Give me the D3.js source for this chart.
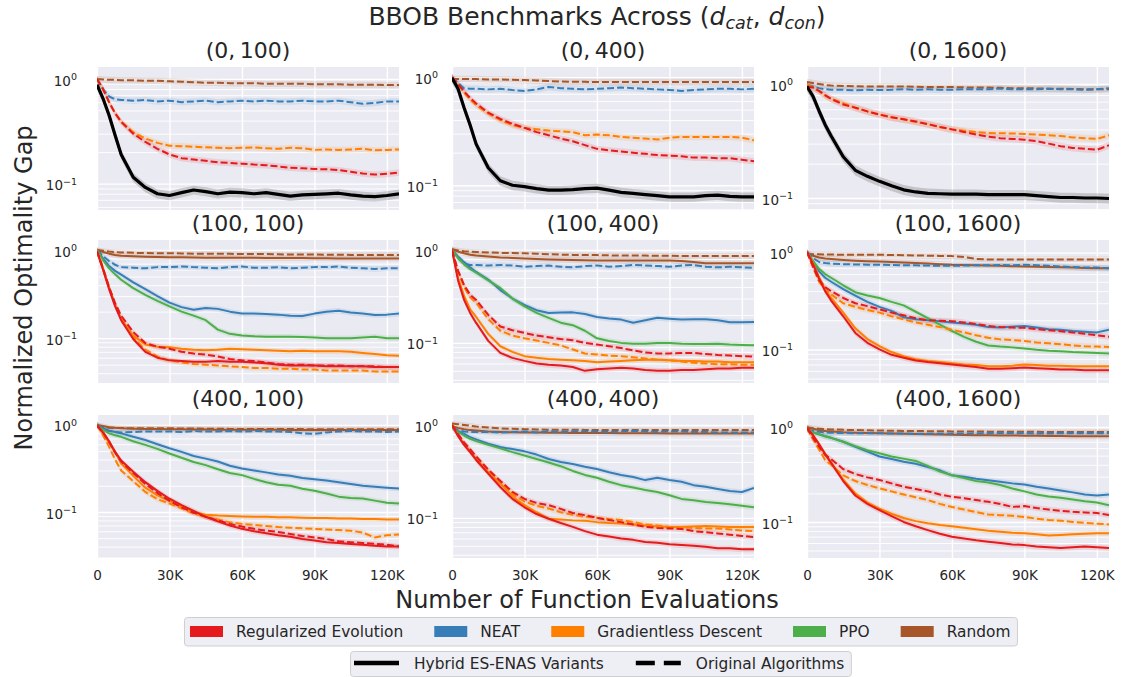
<!DOCTYPE html>
<html>
<head>
<meta charset="utf-8">
<script src="https://cdn.jsdelivr.net/npm/d3@7"></script>
<style>
  body { margin: 0; background: #fff; }
  text { font-family: "DejaVu Sans", sans-serif; fill: #262626; }
</style>
</head>
<body>
<script>
// ----- data -----

// function evaluations (x) shared by every curve
const evals = [0, 2500, 5000, 7500, 10000, 15000, 20000, 25000, 30000, 35000, 40000, 45000, 50000, 55000,
  60000, 65000, 70000, 75000, 80000, 85000, 90000, 95000, 100000, 105000, 110000, 115000, 120000, 125000];

const panelTitles = ["(0,\u2009100)", "(0,\u2009400)", "(0,\u20091600)",
                     "(100,\u2009100)", "(100,\u2009400)", "(100,\u20091600)",
                     "(400,\u2009100)", "(400,\u2009400)", "(400,\u20091600)"];

// y limits of each panel (log axis)
const yLimits = [[0.056, 1.30], [0.059, 1.24], [0.0785, 1.41],
                 [0.031, 1.30], [0.037, 1.28], [0.045, 1.35],
                 [0.0296, 1.30], [0.037, 1.28], [0.0417, 1.34]];

const xTicks = [0, 30000, 60000, 90000, 120000];
const xTickLabels = ["0", "30K", "60K", "90K", "120K"];

// suffix _o = original algorithm (dashed), _h = hybrid ES-ENAS variant (solid)
const gap_0_100 = {
  rnd_o: [1.0,0.99,0.98,0.98,0.97,0.97,0.96, 0.96,0.95,0.94,0.93,0.92,0.92,0.91, 0.91,0.91,0.90,0.90,0.90,0.90,0.89, 0.89,0.89,0.88,0.88,0.88,0.875,0.875],
  neat_o: [1.0,0.8,0.68,0.64,0.63,0.62,0.63, 0.61,0.62,0.60,0.61,0.62,0.60,0.61, 0.62,0.61,0.62,0.61,0.61,0.62,0.61, 0.61,0.62,0.60,0.58,0.59,0.61,0.61],
  gd_o: [1.0,0.8,0.6,0.47,0.39,0.31,0.27, 0.245,0.23,0.228,0.225,0.222,0.22,0.218, 0.22,0.222,0.218,0.215,0.22,0.218,0.21, 0.212,0.21,0.212,0.215,0.208,0.21,0.212],
  re_o: [1.0,0.8,0.6,0.47,0.39,0.30,0.25, 0.215,0.19,0.175,0.17,0.165,0.16,0.158, 0.155,0.152,0.15,0.146,0.142,0.14,0.138, 0.137,0.135,0.13,0.125,0.122,0.124,0.128],
  es_h: [0.88,0.65,0.45,0.29,0.19,0.115,0.092, 0.08,0.077,0.082,0.087,0.084,0.08,0.083, 0.082,0.08,0.082,0.079,0.076,0.078,0.079, 0.08,0.081,0.078,0.076,0.075,0.077,0.08]
};
const gap_0_400 = {
  rnd_o: [0.96,0.96,0.96,0.96,0.96,0.95,0.95, 0.945,0.94,0.93,0.92,0.91,0.905,0.905, 0.90,0.90,0.90,0.90,0.90,0.90,0.90, 0.90,0.90,0.90,0.90,0.90,0.90,0.90],
  neat_o: [1.0,0.88,0.79,0.78,0.78,0.77,0.78, 0.76,0.745,0.77,0.81,0.79,0.78,0.77, 0.78,0.79,0.80,0.79,0.78,0.77,0.76, 0.745,0.76,0.77,0.78,0.78,0.77,0.78],
  gd_o: [1.0,0.85,0.72,0.62,0.55,0.46,0.40, 0.36,0.338,0.33,0.32,0.315,0.31,0.29, 0.294,0.29,0.28,0.275,0.27,0.265,0.275, 0.28,0.28,0.28,0.28,0.28,0.275,0.26],
  re_o: [1.0,0.86,0.74,0.64,0.57,0.47,0.41, 0.37,0.34,0.31,0.29,0.27,0.255,0.235, 0.217,0.21,0.205,0.20,0.195,0.19,0.188, 0.185,0.18,0.18,0.178,0.178,0.172,0.167],
  es_h: [0.98,0.78,0.52,0.36,0.24,0.145,0.11, 0.10,0.097,0.093,0.09,0.09,0.091,0.093, 0.094,0.09,0.086,0.084,0.082,0.08,0.078, 0.078,0.078,0.08,0.081,0.079,0.078,0.078]
};
const gap_0_1600 = {
  rnd_o: [1.04,1.02,1.0,0.98,0.97,0.96,0.955, 0.95,0.95,0.95,0.95,0.945,0.94,0.94, 0.94,0.935,0.93,0.93,0.925,0.92,0.92, 0.915,0.91,0.91,0.905,0.90,0.90,0.90],
  neat_o: [0.99,0.95,0.92,0.90,0.89,0.89,0.88, 0.89,0.885,0.89,0.9,0.89,0.9,0.89, 0.89,0.9,0.9,0.9,0.91,0.9,0.9, 0.9,0.91,0.9,0.9,0.89,0.9,0.92],
  gd_o: [0.99,0.93,0.86,0.79,0.74,0.68,0.62, 0.575,0.54,0.51,0.49,0.465,0.445,0.42, 0.40,0.39,0.38,0.372,0.37,0.368,0.365, 0.36,0.355,0.35,0.34,0.335,0.33,0.355],
  re_o: [0.95,0.93,0.87,0.80,0.74,0.66,0.62, 0.575,0.54,0.51,0.49,0.47,0.445,0.42, 0.40,0.38,0.36,0.345,0.335,0.33,0.325, 0.315,0.30,0.285,0.275,0.27,0.265,0.29],
  es_h: [0.95,0.78,0.58,0.44,0.35,0.23,0.175, 0.155,0.14,0.128,0.118,0.113,0.11,0.109, 0.108,0.108,0.108,0.107,0.107,0.107,0.107, 0.105,0.103,0.101,0.101,0.1,0.1,0.099]
};
const gap_100_100 = {
  rnd_o: [1.0,0.98,0.96,0.95,0.94,0.93,0.925, 0.92,0.92,0.915,0.91,0.91,0.905,0.905, 0.90,0.90,0.90,0.895,0.89,0.89,0.89, 0.885,0.885,0.88,0.88,0.88,0.88,0.88],
  rnd_h: [1.0,0.95,0.91,0.88,0.86,0.85,0.84, 0.835,0.83,0.83,0.825,0.82,0.82,0.82, 0.815,0.815,0.81,0.81,0.81,0.81,0.805, 0.805,0.80,0.80,0.80,0.80,0.80,0.80],
  neat_o: [1.0,0.85,0.75,0.68,0.64,0.63,0.62, 0.64,0.64,0.65,0.64,0.63,0.62,0.64, 0.65,0.63,0.63,0.64,0.62,0.63,0.64, 0.64,0.65,0.63,0.62,0.61,0.62,0.62],
  neat_h: [1.0,0.80,0.66,0.58,0.525,0.43,0.36, 0.30,0.253,0.225,0.21,0.22,0.215,0.20, 0.19,0.19,0.188,0.185,0.18,0.178,0.19, 0.2,0.205,0.195,0.19,0.183,0.185,0.19],
  ppo_h: [1.0,0.77,0.62,0.53,0.46,0.37,0.31, 0.265,0.23,0.20,0.18,0.16,0.125,0.112, 0.107,0.105,0.104,0.104,0.104,0.103,0.102, 0.10,0.10,0.10,0.102,0.104,0.10,0.10],
  gd_o: [0.96,0.61,0.37,0.24,0.165,0.102,0.074, 0.062,0.056,0.053,0.051,0.05,0.049,0.048, 0.047,0.046,0.046,0.045,0.045,0.044,0.044, 0.043,0.043,0.043,0.043,0.042,0.042,0.042],
  gd_h: [1.0,0.62,0.38,0.24,0.165,0.107,0.085, 0.08,0.079,0.076,0.074,0.073,0.074,0.076, 0.075,0.074,0.073,0.072,0.071,0.072,0.071, 0.071,0.071,0.07,0.068,0.066,0.064,0.063],
  re_o: [0.98,0.62,0.38,0.25,0.18,0.117,0.088, 0.08,0.076,0.07,0.067,0.065,0.062,0.058, 0.056,0.055,0.053,0.051,0.05,0.05,0.049, 0.049,0.049,0.048,0.048,0.048,0.047,0.047],
  re_h: [0.96,0.60,0.36,0.23,0.16,0.098,0.07, 0.06,0.056,0.055,0.054,0.054,0.055,0.054, 0.054,0.053,0.052,0.05,0.049,0.049,0.049, 0.048,0.048,0.048,0.048,0.047,0.047,0.047]
};
const gap_100_400 = {
  rnd_o: [1.02,0.99,0.97,0.96,0.95,0.94,0.93, 0.925,0.92,0.91,0.90,0.89,0.885,0.88, 0.88,0.875,0.87,0.87,0.87,0.865,0.865, 0.86,0.86,0.86,0.86,0.86,0.86,0.86],
  rnd_h: [1.02,0.96,0.92,0.89,0.87,0.85,0.83, 0.82,0.81,0.80,0.79,0.785,0.78,0.775, 0.77,0.77,0.77,0.77,0.77,0.77,0.77, 0.76,0.74,0.72,0.72,0.72,0.72,0.72],
  neat_o: [1.0,0.82,0.71,0.69,0.69,0.68,0.69, 0.68,0.66,0.67,0.68,0.66,0.65,0.67, 0.68,0.66,0.67,0.69,0.68,0.67,0.66, 0.68,0.69,0.66,0.65,0.66,0.65,0.64],
  neat_h: [1.0,0.85,0.74,0.65,0.58,0.48,0.37, 0.30,0.257,0.225,0.21,0.212,0.213,0.205, 0.19,0.183,0.178,0.165,0.175,0.186,0.182, 0.178,0.18,0.18,0.175,0.167,0.167,0.168],
  ppo_h: [1.0,0.82,0.70,0.62,0.57,0.47,0.39, 0.30,0.247,0.21,0.186,0.165,0.155,0.135, 0.112,0.105,0.10,0.098,0.098,0.10,0.10, 0.098,0.097,0.097,0.098,0.096,0.095,0.094],
  gd_o: [1.0,0.58,0.40,0.31,0.27,0.18,0.135, 0.12,0.112,0.106,0.1,0.094,0.085,0.077, 0.075,0.073,0.072,0.07,0.068,0.066,0.065, 0.063,0.061,0.06,0.059,0.059,0.058,0.058],
  gd_h: [1.0,0.5,0.32,0.23,0.19,0.125,0.092, 0.08,0.072,0.069,0.067,0.066,0.065,0.064, 0.062,0.063,0.064,0.065,0.066,0.066,0.065, 0.064,0.064,0.063,0.063,0.062,0.062,0.062],
  re_o: [1.0,0.60,0.42,0.33,0.29,0.2,0.15, 0.137,0.128,0.12,0.115,0.11,0.107,0.1, 0.096,0.092,0.088,0.083,0.079,0.077,0.077, 0.078,0.078,0.076,0.074,0.073,0.072,0.071],
  re_h: [1.0,0.47,0.29,0.21,0.164,0.105,0.078, 0.069,0.064,0.06,0.058,0.057,0.055,0.05, 0.052,0.053,0.054,0.053,0.051,0.05,0.05, 0.051,0.051,0.052,0.053,0.053,0.054,0.054]
};
const gap_100_1600 = {
  rnd_o: [0.97,0.96,0.96,0.955,0.955,0.95,0.95, 0.95,0.95,0.945,0.94,0.935,0.93,0.925, 0.92,0.9,0.86,0.85,0.85,0.85,0.85, 0.85,0.85,0.85,0.85,0.85,0.85,0.85],
  rnd_h: [0.98,0.93,0.89,0.87,0.86,0.84,0.825, 0.815,0.81,0.80,0.79,0.78,0.77,0.76, 0.75,0.745,0.74,0.735,0.73,0.725,0.72, 0.715,0.71,0.705,0.70,0.695,0.69,0.69],
  neat_o: [1.02,0.88,0.80,0.78,0.77,0.76,0.755, 0.75,0.75,0.745,0.74,0.74,0.735,0.73, 0.73,0.735,0.74,0.74,0.745,0.74,0.75, 0.74,0.73,0.72,0.71,0.70,0.70,0.69],
  neat_h: [1.02,0.80,0.64,0.55,0.50,0.42,0.36, 0.31,0.275,0.25,0.215,0.205,0.20,0.195, 0.19,0.185,0.18,0.17,0.168,0.172,0.175, 0.168,0.162,0.16,0.155,0.152,0.15,0.16],
  ppo_h: [1.02,0.82,0.68,0.6,0.55,0.46,0.39, 0.36,0.34,0.31,0.285,0.245,0.21,0.18, 0.155,0.135,0.12,0.11,0.107,0.105,0.102, 0.099,0.097,0.096,0.094,0.093,0.092,0.091],
  gd_o: [1.02,0.70,0.50,0.42,0.37,0.30,0.275, 0.255,0.24,0.22,0.205,0.19,0.18,0.17, 0.16,0.15,0.14,0.132,0.127,0.125,0.122, 0.118,0.116,0.113,0.11,0.108,0.107,0.106],
  gd_h: [1.02,0.78,0.56,0.42,0.34,0.24,0.165, 0.128,0.108,0.094,0.085,0.079,0.076,0.074, 0.072,0.07,0.069,0.067,0.067,0.068,0.07, 0.069,0.068,0.068,0.067,0.067,0.067,0.067],
  re_o: [1.02,0.72,0.52,0.44,0.40,0.34,0.30, 0.28,0.26,0.24,0.225,0.21,0.20,0.198, 0.196,0.19,0.183,0.175,0.17,0.168,0.167, 0.162,0.158,0.154,0.15,0.145,0.14,0.135],
  re_h: [1.02,0.76,0.54,0.40,0.32,0.22,0.148, 0.117,0.10,0.088,0.082,0.077,0.074,0.072, 0.07,0.068,0.066,0.063,0.063,0.064,0.065, 0.064,0.063,0.062,0.062,0.061,0.061,0.061]
};
const gap_400_100 = {
  rnd_o: [0.96,0.94,0.93,0.92,0.92,0.915,0.915, 0.915,0.915,0.91,0.91,0.905,0.905,0.9, 0.9,0.9,0.9,0.9,0.895,0.895,0.89, 0.89,0.89,0.89,0.89,0.89,0.89,0.89],
  rnd_h: [1.0,0.97,0.94,0.925,0.915,0.905,0.9, 0.895,0.89,0.89,0.885,0.885,0.88,0.88, 0.88,0.88,0.88,0.88,0.875,0.875,0.875, 0.875,0.875,0.875,0.875,0.875,0.875,0.875],
  neat_o: [1.0,0.9,0.85,0.83,0.82,0.83,0.84, 0.84,0.84,0.83,0.85,0.84,0.84,0.85, 0.84,0.85,0.84,0.84,0.83,0.8,0.79, 0.82,0.84,0.85,0.84,0.84,0.83,0.84],
  neat_h: [1.0,0.92,0.86,0.83,0.80,0.73,0.67, 0.60,0.54,0.49,0.44,0.41,0.38,0.34, 0.316,0.30,0.285,0.27,0.26,0.245,0.238, 0.23,0.22,0.21,0.2,0.195,0.19,0.186],
  ppo_h: [1.0,0.88,0.80,0.76,0.73,0.65,0.59, 0.53,0.47,0.42,0.375,0.345,0.31,0.28, 0.265,0.24,0.22,0.205,0.2,0.185,0.175, 0.163,0.15,0.145,0.143,0.135,0.128,0.125],
  gd_o: [1.0,0.76,0.56,0.40,0.30,0.225,0.17, 0.14,0.125,0.11,0.096,0.088,0.082,0.076, 0.073,0.071,0.069,0.067,0.066,0.065,0.064, 0.063,0.062,0.061,0.058,0.051,0.054,0.055],
  gd_h: [1.0,0.80,0.63,0.49,0.36,0.26,0.19, 0.155,0.134,0.115,0.1,0.093,0.091,0.09, 0.089,0.088,0.088,0.087,0.087,0.086,0.085, 0.085,0.084,0.084,0.083,0.083,0.082,0.082],
  re_o: [1.0,0.82,0.64,0.48,0.38,0.28,0.21, 0.165,0.134,0.113,0.098,0.088,0.08,0.073, 0.068,0.064,0.061,0.059,0.056,0.053,0.051, 0.049,0.046,0.045,0.044,0.043,0.042,0.04],
  re_h: [0.98,0.82,0.65,0.49,0.39,0.29,0.22, 0.175,0.142,0.12,0.103,0.088,0.078,0.07, 0.064,0.06,0.057,0.054,0.052,0.049,0.047, 0.045,0.044,0.043,0.042,0.041,0.04,0.04]
};
const gap_400_400 = {
  rnd_o: [1.04,1.02,1.0,0.98,0.96,0.94,0.92, 0.91,0.90,0.895,0.89,0.89,0.89,0.885, 0.885,0.885,0.88,0.88,0.88,0.88,0.88, 0.88,0.88,0.88,0.88,0.88,0.88,0.88],
  rnd_h: [0.97,0.93,0.9,0.88,0.87,0.85,0.84, 0.835,0.83,0.83,0.825,0.825,0.82,0.82, 0.82,0.82,0.815,0.815,0.815,0.815,0.81, 0.81,0.81,0.81,0.81,0.81,0.81,0.81],
  neat_o: [0.94,0.88,0.85,0.84,0.84,0.84,0.83, 0.84,0.85,0.83,0.85,0.84,0.85,0.85, 0.85,0.84,0.85,0.86,0.85,0.84,0.85, 0.85,0.84,0.84,0.83,0.83,0.83,0.83],
  neat_h: [0.94,0.86,0.80,0.74,0.70,0.63,0.58, 0.55,0.52,0.48,0.43,0.40,0.38,0.355, 0.335,0.31,0.29,0.275,0.255,0.27,0.255, 0.245,0.225,0.216,0.205,0.195,0.19,0.21],
  ppo_h: [0.94,0.84,0.77,0.71,0.67,0.61,0.56, 0.51,0.47,0.43,0.395,0.36,0.32,0.29, 0.27,0.245,0.225,0.212,0.2,0.19,0.175, 0.16,0.155,0.148,0.145,0.14,0.135,0.13],
  gd_o: [1.0,0.78,0.63,0.53,0.445,0.32,0.245, 0.18,0.15,0.135,0.126,0.115,0.108,0.103, 0.1,0.097,0.095,0.09,0.085,0.083,0.08, 0.079,0.078,0.077,0.077,0.075,0.073,0.072],
  gd_h: [1.0,0.77,0.62,0.52,0.43,0.31,0.235, 0.17,0.137,0.115,0.098,0.096,0.094,0.093, 0.09,0.088,0.087,0.085,0.083,0.081,0.08, 0.08,0.081,0.082,0.081,0.08,0.08,0.08],
  re_o: [1.0,0.80,0.65,0.55,0.46,0.33,0.25, 0.19,0.16,0.145,0.137,0.125,0.113,0.107, 0.1,0.095,0.09,0.085,0.08,0.078,0.077, 0.076,0.072,0.07,0.068,0.066,0.064,0.062],
  re_h: [1.0,0.76,0.61,0.51,0.42,0.30,0.215, 0.16,0.13,0.11,0.098,0.088,0.08,0.072, 0.066,0.063,0.06,0.058,0.055,0.054,0.052, 0.051,0.05,0.049,0.047,0.047,0.046,0.046]
};
const gap_400_1600 = {
  rnd_o: [0.98,0.97,0.96,0.95,0.945,0.935,0.93, 0.925,0.92,0.915,0.91,0.91,0.905,0.905, 0.9,0.9,0.9,0.895,0.895,0.89,0.89, 0.89,0.885,0.885,0.885,0.885,0.885,0.885],
  rnd_h: [1.0,0.96,0.93,0.91,0.9,0.88,0.87, 0.865,0.86,0.855,0.85,0.845,0.84,0.835, 0.83,0.825,0.82,0.82,0.815,0.815,0.81, 0.81,0.805,0.805,0.80,0.80,0.80,0.80],
  neat_o: [0.94,0.91,0.89,0.88,0.87,0.865,0.86, 0.86,0.86,0.855,0.855,0.85,0.85,0.85, 0.85,0.85,0.855,0.86,0.86,0.86,0.86, 0.855,0.855,0.86,0.86,0.86,0.86,0.86],
  neat_h: [0.94,0.88,0.84,0.80,0.77,0.70,0.62, 0.55,0.49,0.46,0.43,0.41,0.38,0.35, 0.31,0.3,0.285,0.275,0.265,0.255,0.248, 0.235,0.225,0.215,0.205,0.195,0.19,0.195],
  ppo_h: [0.94,0.88,0.84,0.80,0.77,0.70,0.63, 0.57,0.53,0.49,0.465,0.44,0.39,0.34, 0.31,0.29,0.27,0.26,0.245,0.225,0.21, 0.195,0.185,0.18,0.172,0.165,0.16,0.15],
  gd_o: [0.98,0.74,0.58,0.45,0.40,0.31,0.27, 0.245,0.226,0.21,0.195,0.182,0.17,0.155, 0.144,0.135,0.127,0.12,0.118,0.116,0.113, 0.108,0.105,0.103,0.1,0.098,0.096,0.094],
  gd_h: [0.98,0.82,0.66,0.52,0.42,0.28,0.2, 0.16,0.138,0.122,0.11,0.102,0.097,0.093, 0.09,0.087,0.084,0.081,0.079,0.077,0.076, 0.074,0.072,0.073,0.074,0.075,0.076,0.076],
  re_o: [0.98,0.77,0.62,0.51,0.46,0.36,0.32, 0.295,0.277,0.255,0.235,0.222,0.21,0.195, 0.184,0.178,0.17,0.163,0.155,0.144,0.147, 0.14,0.135,0.131,0.128,0.126,0.124,0.118],
  re_h: [0.98,0.82,0.66,0.52,0.42,0.27,0.19, 0.155,0.133,0.115,0.1,0.09,0.082,0.075, 0.07,0.067,0.064,0.062,0.06,0.058,0.057, 0.055,0.054,0.053,0.054,0.055,0.054,0.053]
};

const panelData = [gap_0_100, gap_0_400, gap_0_1600,
                   gap_100_100, gap_100_400, gap_100_1600,
                   gap_400_100, gap_400_400, gap_400_1600];

const algoNames = ["Regularized Evolution", "NEAT", "Gradientless Descent", "PPO", "Random"];
const algoKeys = ["re", "neat", "gd", "ppo", "rnd"];
const algoColors = ["#e41a1c", "#377eb8", "#ff7f00", "#4daf4a", "#a65628"];
const styleNames = ["Hybrid ES-ENAS Variants", "Original Algorithms"];

// drawing order of the curves inside a panel
const drawOrder = ["rnd_o", "rnd_h", "neat_o", "neat_h", "ppo_h", "gd_o", "gd_h", "re_o", "re_h", "es_h"];

// ----- layout -----
const W = 1122, H = 677;
const colLeft = [97, 452, 807];
const rowTop = [67, 240, 415];
const pw = 302, ph = 143;
const labelPad = [20, 14, 14];

function colorOf(key) {
  const a = key.split("_")[0];
  if (a === "es") return "#000000";
  return algoColors[algoKeys.indexOf(a)];
}

const svg = d3.select("body").append("svg")
    .attr("width", W)
    .attr("height", H);

const x = d3.scaleLinear().domain([0, 125000]).range([0, pw]);

panelData.forEach(function(data, i) {
  const r = Math.floor(i / 3), c = i % 3;
  const y = d3.scaleLog().domain(yLimits[i]).range([ph, 0]);

  const g = svg.append("g")
      .attr("transform", "translate(" + colLeft[c] + "," + rowTop[r] + ")");

  g.append("rect")
      .attr("width", pw)
      .attr("height", ph)
      .attr("fill", "#eaeaf2");

  g.append("clipPath").attr("id", "clip" + i)
    .append("rect").attr("width", pw).attr("height", ph);

  // minor + major horizontal grid
  const allTicks = y.ticks();
  g.append("g")
      .call(d3.axisLeft(y).tickValues(allTicks).tickSize(-pw).tickFormat(""))
      .call(s => s.select(".domain").remove())
      .call(s => s.selectAll(".tick line")
          .attr("stroke", "#fff")
          .attr("stroke-width", d => Math.abs(Math.log10(d) - Math.round(Math.log10(d))) < 1e-6 ? 1.4 : 0.9));

  // vertical grid
  g.append("g")
      .attr("transform", "translate(0," + ph + ")")
      .call(d3.axisBottom(x).tickValues(xTicks).tickSize(-ph).tickFormat(""))
      .call(s => s.select(".domain").remove())
      .call(s => s.selectAll(".tick line").attr("stroke", "#fff").attr("stroke-width", 1.4));

  // y tick labels 10^0, 10^-1
  const yAx = g.append("g")
      .call(d3.axisLeft(y).tickValues([1, 0.1]).tickSize(0).tickPadding(labelPad[c]))
      .call(s => s.select(".domain").remove());
  yAx.selectAll(".tick text").each(function(d) {
    const t = d3.select(this)
        .text(null)
        .attr("font-size", 13.5)
        .attr("font-family", "DejaVu Sans")
        .attr("fill", "#262626")
        .attr("dy", "0.45em");
    t.append("tspan").text("10");
    t.append("tspan")
        .attr("font-size", 9.5)
        .attr("dy", "-0.6em")
        .text(d === 1 ? "0" : "\u22121");
  });

  // x tick labels on the bottom row
  if (r === 2) {
    g.append("g")
        .attr("transform", "translate(0," + ph + ")")
        .call(d3.axisBottom(x).tickValues(xTicks).tickSize(0).tickPadding(12)
            .tickFormat((d, k) => xTickLabels[k]))
        .call(s => s.select(".domain").remove())
        .call(s => s.selectAll(".tick text")
            .attr("font-size", 13.5)
            .attr("font-family", "DejaVu Sans")
            .attr("fill", "#262626"));
  }

  const plot = g.append("g").attr("clip-path", "url(#clip" + i + ")");
  const keys = drawOrder.filter(k => data[k]);

  // shaded spread bands
  keys.forEach(function(k) {
    const spread = k === "es_h" ? 0.1 : 0.07;
    const area = d3.area()
        .x((d, j) => x(evals[j]))
        .y0(d => y(d * (1 - spread)))
        .y1(d => y(d * (1 + spread)));
    plot.append("path")
        .datum(data[k])
        .attr("d", area)
        .attr("fill", k === "es_h" ? "#555" : colorOf(k))
        .attr("opacity", k === "es_h" ? 0.25 : 0.13);
  });

  // curves
  keys.forEach(function(k) {
    const line = d3.line()
        .x((d, j) => x(evals[j]))
        .y(d => y(d));
    plot.append("path")
        .datum(data[k])
        .attr("d", line)
        .attr("fill", "none")
        .attr("stroke", colorOf(k))
        .attr("stroke-width", k === "es_h" ? 3.2 : 2)
        .attr("stroke-dasharray", k.endsWith("_o") ? "7,3" : null)
        .attr("stroke-linejoin", "round");
  });

  // panel title
  svg.append("text")
      .attr("x", colLeft[c] + pw / 2)
      .attr("y", rowTop[r] - 9)
      .attr("text-anchor", "middle")
      .attr("font-size", 22)
      .text(panelTitles[i]);
});

// ----- figure title and axis labels -----
const title = svg.append("text")
    .attr("x", 597)
    .attr("y", 25)
    .attr("text-anchor", "middle")
    .attr("font-size", 25);
title.append("tspan").text("BBOB Benchmarks Across (");
title.append("tspan").attr("font-style", "italic").text("d");
title.append("tspan").attr("font-style", "italic").attr("font-size", 17.5).attr("dy", 4).text("cat");
title.append("tspan").attr("dy", -4).text(", ");
title.append("tspan").attr("font-style", "italic").text("d");
title.append("tspan").attr("font-style", "italic").attr("font-size", 17.5).attr("dy", 4).text("con");
title.append("tspan").attr("dy", -4).text(")");

svg.append("text")
    .attr("x", 587)
    .attr("y", 608)
    .attr("text-anchor", "middle")
    .attr("font-size", 24)
    .text("Number of Function Evaluations");

svg.append("text")
    .attr("transform", "translate(32,288) rotate(-90)")
    .attr("text-anchor", "middle")
    .attr("font-size", 24)
    .text("Normalized Optimality Gap");

// ----- legends -----
const legendFont = 15.4;

const leg1 = svg.append("g");
const box1 = leg1.append("rect");
let lx = 190;
algoNames.forEach(function(name, k) {
  leg1.append("rect")
      .attr("x", lx).attr("y", 626)
      .attr("width", 33).attr("height", 11)
      .attr("fill", algoColors[k]);
  const t = leg1.append("text")
      .attr("x", lx + 46).attr("y", 631)
      .attr("dy", "0.36em")
      .attr("font-size", legendFont)
      .text(name);
  lx += 46 + t.node().getComputedTextLength() + 31;
});
box1.attr("x", 184.5).attr("y", 617.5)
    .attr("width", lx - 31 + 7 - 184.5).attr("height", 28.5)
    .attr("rx", 3)
    .attr("fill", "#eeeef5")
    .attr("stroke", "#cfcfcf");

const leg2 = svg.append("g");
const box2 = leg2.append("rect");
let sx = 354;
styleNames.forEach(function(name, k) {
  leg2.append("line")
      .attr("x1", sx).attr("x2", sx + 45)
      .attr("y1", 663).attr("y2", 663)
      .attr("stroke", "#000")
      .attr("stroke-width", 4.5)
      .attr("stroke-dasharray", k === 1 ? "19,9" : null);
  const t = leg2.append("text")
      .attr("x", sx + 60).attr("y", 663)
      .attr("dy", "0.36em")
      .attr("font-size", legendFont)
      .text(name);
  sx += 60 + t.node().getComputedTextLength() + 32;
});
box2.attr("x", 350.5).attr("y", 651.5)
    .attr("width", sx - 32 + 7 - 350.5).attr("height", 25)
    .attr("rx", 3)
    .attr("fill", "#eeeef5")
    .attr("stroke", "#cfcfcf");
</script>
</body>
</html>
